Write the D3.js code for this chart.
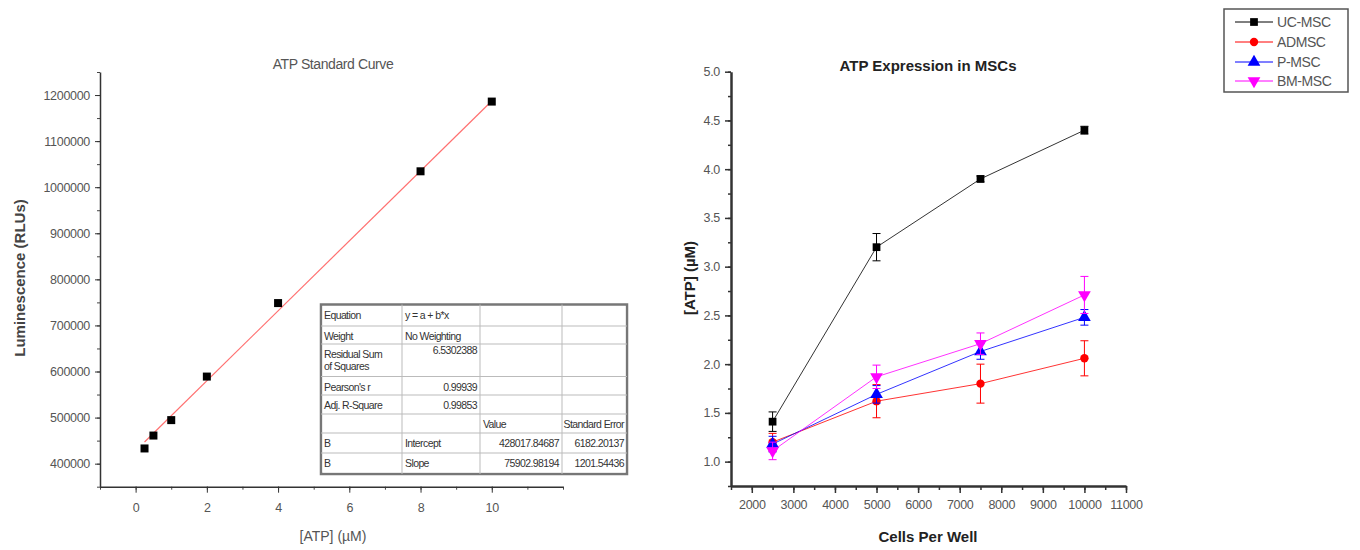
<!DOCTYPE html>
<html>
<head>
<meta charset="utf-8">
<script src="https://cdn.jsdelivr.net/npm/d3@7"></script>
<style>
  body { margin: 0; background: #fff; }
  svg { display: block; font-family: "Liberation Sans", Arial, sans-serif; }
  .tick text { fill: #555; font-size: 12.5px; letter-spacing: -0.3px; }
  .tbl text { font-size: 10.5px; fill: #333; letter-spacing: -0.6px; }
</style>
</head>
<body>
<div id="chart"></div>
<script>
// ---- Standard curve data (left) ----
var stdConc = [0.25, 0.5, 1, 2, 4, 8, 10];
var stdLum = [433000, 461000, 494500, 589000, 748500, 1034500, 1185800];
var fitIntercept = 428017.84687;
var fitSlope = 75902.98194;

var tableRows = [
    ["Equation", "y = a + b*x", "", ""],
    ["Weight", "No Weighting", "", ""],
    ["Residual Sum|of Squares", "6.5302388", "", ""],
    ["Pearson's r", "0.99939", "", ""],
    ["Adj. R-Square", "0.99853", "", ""],
    ["", "", "Value", "Standard Error"],
    ["B", "Intercept", "428017.84687", "6182.20137"],
    ["B", "Slope", "75902.98194", "1201.54436"]
];

// ---- ATP expression data (right) ----
var cells = [2500, 5000, 7500, 10000];
var seriesNames = ["UC-MSC", "ADMSC", "P-MSC", "BM-MSC"];
var seriesColors = ["#000000", "#ff0000", "#0000ff", "#ff00ff"];
var ucMsc = [1.41, 3.20, 3.90, 4.40];
var ucMscErr = [0.10, 0.14, 0.03, 0.04];
var adMsc = [1.20, 1.62, 1.80, 2.06];
var adMscErr = [0.09, 0.17, 0.20, 0.18];
var pMsc = [1.18, 1.69, 2.13, 2.48];
var pMscErr = [0.08, 0.09, 0.08, 0.08];
var bmMsc = [1.11, 1.87, 2.21, 2.71];
var bmMscErr = [0.09, 0.12, 0.11, 0.19];

var svg = d3.select("#chart").append("svg")
    .attr("width", 1360)
    .attr("height", 550);

// ================= Left chart =================
var xL = d3.scaleLinear().domain([-1, 12]).range([100, 563]);
var yL = d3.scaleLinear().domain([350000, 1250000]).range([486.7, 72]);

var left = svg.append("g");

// minor ticks
left.append("g").attr("transform", "translate(0,486.7)")
    .call(d3.axisBottom(xL).tickValues(d3.range(-1, 12.1, 1)).tickSize(3).tickFormat(""))
    .call(g => g.select(".domain").remove())
    .selectAll("line").attr("stroke", "#444");
left.append("g").attr("transform", "translate(100,0)")
    .call(d3.axisLeft(yL).tickValues(d3.range(350000, 1250001, 50000)).tickSize(3).tickFormat(""))
    .call(g => g.select(".domain").remove())
    .selectAll("line").attr("stroke", "#444");

var xAxisL = left.append("g").attr("transform", "translate(0,486.7)")
    .call(d3.axisBottom(xL).tickValues([0, 2, 4, 6, 8, 10]).tickSize(6).tickPadding(10).tickSizeOuter(0));
var yAxisL = left.append("g").attr("transform", "translate(100,0)")
    .call(d3.axisLeft(yL).tickValues(d3.range(400000, 1200001, 100000)).tickSize(5).tickPadding(5).tickSizeOuter(0).tickFormat(d3.format("d")));
[xAxisL, yAxisL].forEach(a => {
    a.select(".domain").attr("stroke", "#333").attr("stroke-width", 1.5);
    a.selectAll(".tick line").attr("stroke", "#333");
});

// fit line
left.append("line")
    .attr("x1", xL(0.25)).attr("y1", yL(fitIntercept + fitSlope * 0.25))
    .attr("x2", xL(10)).attr("y2", yL(fitIntercept + fitSlope * 10))
    .attr("stroke", "#ff7070").attr("stroke-width", 1.2);

left.selectAll("rect.pt").data(stdConc).enter().append("rect")
    .attr("class", "pt")
    .attr("x", (d, i) => xL(d) - 4)
    .attr("y", (d, i) => yL(stdLum[i]) - 4)
    .attr("width", 8).attr("height", 8)
    .attr("fill", "#000");

left.append("text").attr("x", 333).attr("y", 69).attr("text-anchor", "middle")
    .attr("font-size", 14).attr("fill", "#555").attr("letter-spacing", -0.4).text("ATP Standard Curve");
left.append("text").attr("x", 333).attr("y", 541).attr("text-anchor", "middle")
    .attr("font-size", 14).attr("fill", "#555").text("[ATP] (\u00b5M)");
left.append("text").attr("transform", "translate(25,278) rotate(-90)").attr("text-anchor", "middle")
    .attr("font-size", 15).attr("font-weight", "bold").attr("fill", "#444").text("Luminescence (RLUs)");

// fit table
var colX = [321, 402, 480, 562, 627];
var rowY = [304.5, 326, 344, 376.5, 395, 414, 433, 453, 474];
var tbl = left.append("g").attr("class", "tbl");
tbl.append("rect").attr("x", colX[0]).attr("y", rowY[0])
    .attr("width", colX[4] - colX[0]).attr("height", rowY[8] - rowY[0])
    .attr("fill", "#fff").attr("stroke", "#777").attr("stroke-width", 2.5);
tbl.append("rect").attr("x", colX[0] + 2).attr("y", rowY[0] + 2)
    .attr("width", colX[4] - colX[0] - 4).attr("height", rowY[8] - rowY[0] - 4)
    .attr("fill", "none").attr("stroke", "#fff").attr("stroke-width", 0.8);
rowY.slice(1, 8).forEach(y => {
    tbl.append("line").attr("x1", colX[0]).attr("x2", colX[4]).attr("y1", y).attr("y2", y)
        .attr("stroke", "#bbb").attr("stroke-width", 1);
});
colX.slice(1, 4).forEach(x => {
    tbl.append("line").attr("x1", x).attr("x2", x).attr("y1", rowY[0]).attr("y2", rowY[8])
        .attr("stroke", "#bbb").attr("stroke-width", 1);
});
tableRows.forEach((row, r) => {
    row.forEach((cell, c) => {
        if (!cell) return;
        var top = rowY[r];
        var numeric = /^[0-9.]+$/.test(cell);
        var tx = (numeric || (r == 5 && c == 3)) ? colX[c + 1] - 3 : colX[c] + 3;
        if (r == 5 && c == 2) tx = colX[c] + 3;
        var anchor = (numeric || (r == 5 && c == 3)) ? "end" : "start";
        var lines = cell.split("|");
        lines.forEach((ln, k) => {
            tbl.append("text").attr("x", tx)
                .attr("y", (r == 2 && c == 1) ? top + 10 : top + 14 + k * 12)
                .attr("text-anchor", anchor).text(ln);
        });
    });
});

// ================= Right chart =================
var xR = d3.scaleLinear().domain([1500, 11000]).range([731, 1126]);
var yR = d3.scaleLinear().domain([0.75, 5]).range([486, 71.7]);

var right = svg.append("g");

right.append("g").attr("transform", "translate(0,486)")
    .call(d3.axisBottom(xR).tickValues(d3.range(1500, 11001, 500)).tickSize(4).tickFormat(""))
    .call(g => g.select(".domain").remove())
    .selectAll("line").attr("stroke", "#333").attr("stroke-width", 1.5);
right.append("g").attr("transform", "translate(731,0)")
    .call(d3.axisLeft(yR).tickValues(d3.range(0.75, 5.01, 0.25)).tickSize(3).tickFormat(""))
    .call(g => g.select(".domain").remove())
    .selectAll("line").attr("stroke", "#333").attr("stroke-width", 1.5);

var xAxisR = right.append("g").attr("transform", "translate(0,486)")
    .call(d3.axisBottom(xR).tickValues(d3.range(2000, 11001, 1000)).tickSize(7).tickPadding(7).tickSizeOuter(0).tickFormat(d3.format("d")));
var yAxisR = right.append("g").attr("transform", "translate(731,0)")
    .call(d3.axisLeft(yR).tickValues(d3.range(1, 5.01, 0.5)).tickSize(6).tickPadding(5).tickSizeOuter(0).tickFormat(d3.format(".1f")));
[xAxisR, yAxisR].forEach(a => {
    a.select(".domain").attr("stroke", "#333").attr("stroke-width", 2.5);
    a.selectAll(".tick line").attr("stroke", "#333").attr("stroke-width", 1.5);
});

var seriesVals = [ucMsc, adMsc, pMsc, bmMsc];
var seriesErrs = [ucMscErr, adMscErr, pMscErr, bmMscErr];
var symbols = [d3.symbolSquare, d3.symbolCircle, d3.symbolTriangle, d3.symbolTriangle];
var symbolSizes = [60, 55, 70, 70];

var line = d3.line().x(d => xR(d[0])).y(d => yR(d[1]));

seriesVals.forEach((vals, s) => {
    var col = seriesColors[s];
    var pts = cells.map((c, i) => [c, vals[i], seriesErrs[s][i]]);
    var g = right.append("g");
    g.append("path").datum(pts).attr("d", line)
        .attr("fill", "none").attr("stroke", col).attr("stroke-width", 1).attr("opacity", 0.8);
    pts.forEach(p => {
        var x = xR(p[0]);
        g.append("line").attr("x1", x).attr("x2", x).attr("y1", yR(p[1] - p[2])).attr("y2", yR(p[1] + p[2]))
            .attr("stroke", col).attr("stroke-width", 1);
        [p[1] - p[2], p[1] + p[2]].forEach(v => {
            g.append("line").attr("x1", x - 4).attr("x2", x + 4).attr("y1", yR(v)).attr("y2", yR(v))
                .attr("stroke", col).attr("stroke-width", 1);
        });
    });
    g.selectAll("path.sym").data(pts).enter().append("path")
        .attr("class", "sym")
        .attr("transform", d => `translate(${xR(d[0])},${yR(d[1])})` + (s == 3 ? " rotate(180)" : ""))
        .attr("d", d3.symbol().type(symbols[s]).size(symbolSizes[s]))
        .attr("fill", col);
});

right.append("text").attr("x", 928).attr("y", 71).attr("text-anchor", "middle")
    .attr("font-size", 15).attr("font-weight", "bold").attr("fill", "#222").text("ATP Expression in MSCs");
right.append("text").attr("x", 928).attr("y", 542).attr("text-anchor", "middle")
    .attr("font-size", 15).attr("font-weight", "bold").attr("fill", "#222").text("Cells Per Well");
right.append("text").attr("transform", "translate(695,278) rotate(-90)").attr("text-anchor", "middle")
    .attr("font-size", 15).attr("font-weight", "bold").attr("fill", "#222").text("[ATP] (\u00b5M)");

// legend
var legend = right.append("g");
legend.append("rect").attr("x", 1224).attr("y", 9).attr("width", 124).attr("height", 83)
    .attr("fill", "#fff").attr("stroke", "#555").attr("stroke-width", 1.5);
var legY = [22, 42, 62, 81];
seriesNames.forEach((name, s) => {
    var y = legY[s];
    legend.append("line").attr("x1", 1235).attr("x2", 1273).attr("y1", y).attr("y2", y)
        .attr("stroke", seriesColors[s]).attr("stroke-width", 1);
    legend.append("path")
        .attr("transform", `translate(1254,${y})` + (s == 3 ? " rotate(180)" : ""))
        .attr("d", d3.symbol().type(symbols[s]).size(symbolSizes[s]))
        .attr("fill", seriesColors[s]);
    legend.append("text").attr("x", 1277).attr("y", y + 5)
        .attr("font-size", 14).attr("fill", "#555").attr("letter-spacing", -0.4).text(name);
});
</script>
</body>
</html>
